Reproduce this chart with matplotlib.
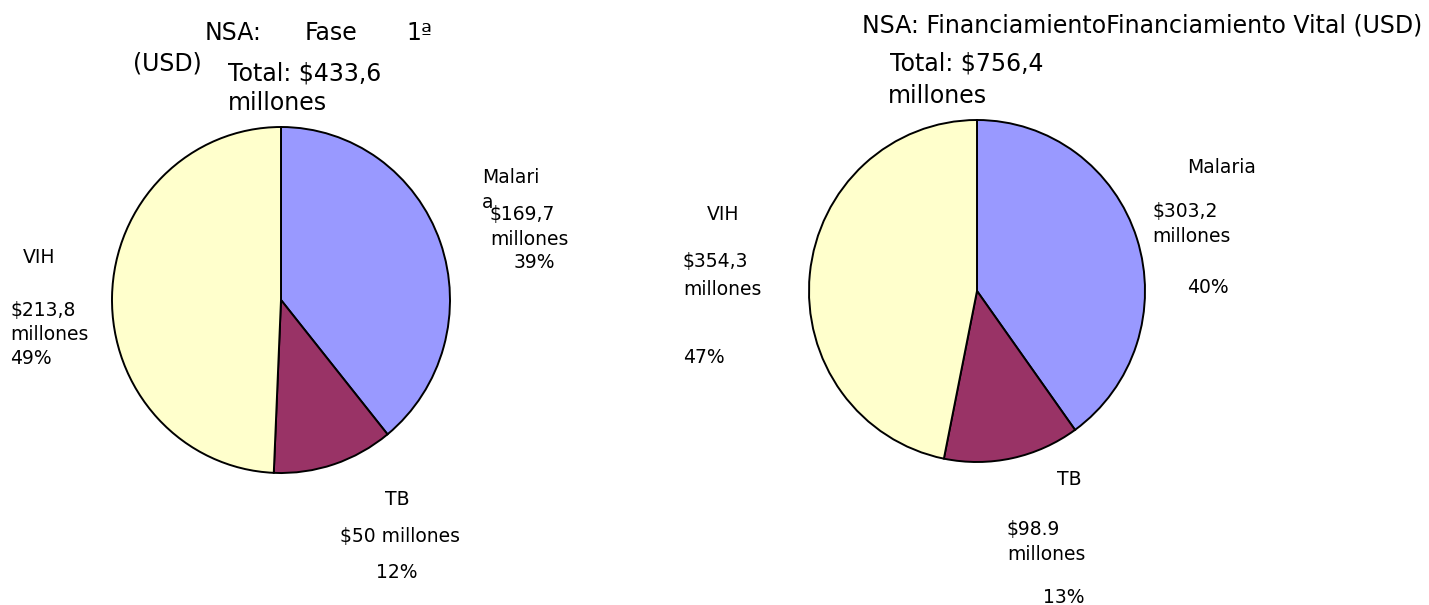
import matplotlib
matplotlib.use("Agg")
import matplotlib.pyplot as plt

W, H = 1429, 605

categories = ["Malaria", "TB", "VIH"]
fase1_values = [169.7, 50.0, 213.8]
vital_values = [303.2, 98.9, 354.3]
colors = ["#9999FF", "#993366", "#FFFFCC"]

plt.rcParams["font.family"] = ["DejaVu Sans"]

fig = plt.figure(figsize=(W / 100, H / 100), dpi=100)


def pie_axes(cx, cy, rx, ry):
    return fig.add_axes([(cx - rx) / W, 1 - (cy + ry) / H, 2 * rx / W, 2 * ry / H])


def label(x, y, s, size=13.5, ha="left"):
    # x, y in pixels from top-left, y is the baseline
    fig.text(x / W, 1 - y / H, s, fontsize=size, va="baseline", ha=ha)


for (cx, cy, rx, ry), vals in [((281, 300, 169, 173), fase1_values),
                               ((977, 291, 168, 171), vital_values)]:
    ax = pie_axes(cx, cy, rx, ry)
    ax.pie(vals, colors=colors, startangle=90, counterclock=False,
           wedgeprops=dict(edgecolor="black", linewidth=1.4))
    ax.set_aspect("auto")
    ax.set_xlim(-1, 1)
    ax.set_ylim(-1, 1)
    ax.axis("off")

# left chart
label(205, 40, "NSA:", 17)
label(305, 40, "Fase", 17)
label(406, 40, "1ª", 17)
label(133, 70, "(USD)", 17)
label(228, 80, "Total: $433,6", 17)
label(228, 110, "millones", 17)

label(482, 183, "Malari")
label(482, 208, "a")
label(490, 220, "$169,7")
label(490, 245, "millones")
label(514, 268, "39%")

label(23, 263, "VIH")
label(10, 316, "$213,8")
label(10, 340, "millones")
label(10, 364, "49%")

label(397, 505, "TB", ha="center")
label(400, 542, "$50 millones", ha="center")
label(397, 578, "12%", ha="center")

# right chart
label(862, 32, "NSA: FinanciamientoFinanciamiento Vital (USD)", 17)
label(890, 70, "Total: $756,4", 17)
label(888, 103, "millones", 17)

label(1187, 173, "Malaria")
label(1152, 217, "$303,2")
label(1152, 242, "millones")
label(1187, 293, "40%")

label(707, 220, "VIH")
label(683, 267, "$354,3")
label(683, 295, "millones")
label(683, 363, "47%")

label(1057, 485, "TB")
label(1007, 535, "$98.9")
label(1007, 560, "millones")
label(1043, 603, "13%")

fig.savefig("out.png", dpi=100)
